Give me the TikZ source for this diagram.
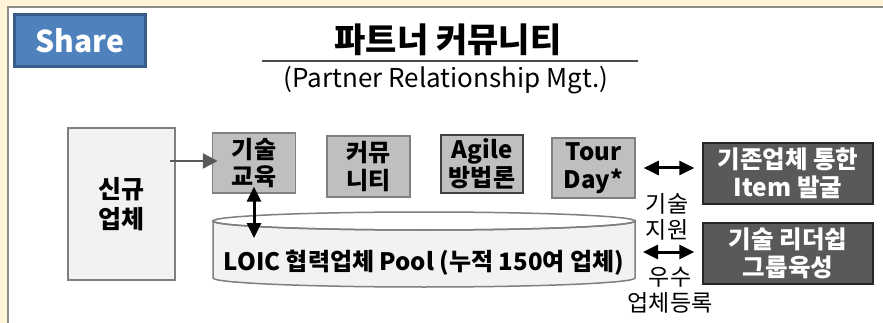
\documentclass[tikz,border=0pt]{standalone}
\usepackage{fontspec}
\setmainfont{Noto Sans CJK KR}
\usetikzlibrary{arrows.meta}
\definecolor{cream}{HTML}{FFF4D8}
\definecolor{panelline}{HTML}{8C8C8C}
\definecolor{sharefill}{HTML}{4F81BD}
\definecolor{shareline}{HTML}{385D8A}
\definecolor{lightfill}{HTML}{F2F2F2}
\definecolor{midfill}{HTML}{BFBFBF}
\definecolor{boxline}{HTML}{7F7F7F}
\definecolor{darkfill}{HTML}{595959}
\tikzset{
  lightbox/.style={draw=boxline, fill=lightfill, line width=1.5pt, inner sep=0pt, align=center,
    font=\fontsize{25}{30}\selectfont\bfseries},
  graybox/.style={draw=boxline, fill=midfill, line width=1.5pt, inner sep=0pt, align=center,
    minimum width=83pt, minimum height=59pt, font=\fontsize{24}{27.5}\selectfont\bfseries},
  darkbox/.style={draw=black!85, fill=darkfill, line width=1.5pt, inner sep=0pt, align=center,
    minimum width=170pt, minimum height=61pt, text=white, font=\fontsize{24.5}{28}\selectfont\bfseries},
  dblarrow/.style={line width=3pt, {Triangle[length=15pt,width=14pt]}-{Triangle[length=15pt,width=14pt]}},
  grayarrow/.style={line width=2.5pt, draw=darkfill, -{Triangle[length=15pt,width=15pt]}},
  lbl/.style={align=center, inner sep=0pt, font=\fontsize{23}{26}\selectfont},
}
\begin{document}
\begin{tikzpicture}[x=1pt,y=-1pt]
\useasboundingbox (0,0) rectangle (883,323);
\fill[cream] (0,0) rectangle (883,323);
\draw[draw=panelline, fill=white, line width=2pt] (8,7) rectangle (900,340);
% Share button
\node[draw=shareline, fill=sharefill, line width=3pt, minimum width=131pt, minimum height=52pt,
  inner sep=0pt, text=white, font=\fontsize{30}{34}\selectfont\bfseries] (share) at (80,40.5) {Share};
% title
\node[font=\fontsize{34}{38}\selectfont\bfseries, inner sep=0pt] (title) at (448,40) {파트너 커뮤니티};
\coordinate (ruleL) at (262,61);
\coordinate (ruleR) at (638,61);
\draw[line width=1.5pt, draw=black!70] (ruleL) -- (ruleR);
\node[font=\fontsize{26}{30}\selectfont, inner sep=0pt] (sub) at (446,80) {(Partner Relationship Mgt.)};
% new company box
\node[lightbox, minimum width=107pt, minimum height=152pt] (new) at (121.5,204) {신규\\업체};
% gray boxes
\node[graybox, minimum height=60pt] (edu) at (254,163) {기술\\교육};
\node[graybox, minimum height=61pt] (comm) at (368.5,166.5) {커뮤\\니티};
\node[graybox, draw=black!75, minimum width=82pt, minimum height=58pt] (agile) at (482,164) {Agile\\방법론};
\node[graybox, minimum height=60pt] (tour) at (593.5,168) {Tour\\Day*};
% dark boxes
\node[darkbox] (dark1) at (788,173.5) {기존업체 통한\\Item 발굴};
\node[darkbox] (dark2) at (788,253.5) {기술 리더쉽\\그룹육성};
% cylinder
\draw[draw=boxline, fill=lightfill, line width=1.5pt]
  (213,221) -- (213,278) arc[start angle=180, end angle=0, x radius=211, y radius=9]
  -- (635,221) arc[start angle=0, end angle=180, x radius=211, y radius=9] -- cycle;
\draw[draw=boxline, line width=1.5pt] (424,221) ellipse[x radius=211, y radius=9];
\node[font=\fontsize{24}{28}\selectfont\bfseries, inner sep=0pt] (pool) at (424,263) {LOIC 협력업체 Pool (누적 150여 업체)};
\coordinate (poolTop) at (254,238);
\coordinate (poolR) at (635,252);
% connectors
\draw[grayarrow] ([xshift=-6pt,yshift=2pt]new.east |- edu.west) -- ([xshift=6pt,yshift=2pt]edu.west);
\draw[dblarrow] ([yshift=7pt]edu.south) -- (poolTop);
\draw[dblarrow, shorten <=8pt, shorten >=8pt] (tour.east) -- (dark1.west |- tour.east);
\draw[dblarrow, shorten <=8pt, shorten >=8pt] (poolR) -- (dark2.west |- poolR);
% labels
\node[lbl] (support) at (667,217) {기술\\지원};
\node[lbl] (reg) at (670,290) {우수\\업체등록};
\end{tikzpicture}
\end{document}
